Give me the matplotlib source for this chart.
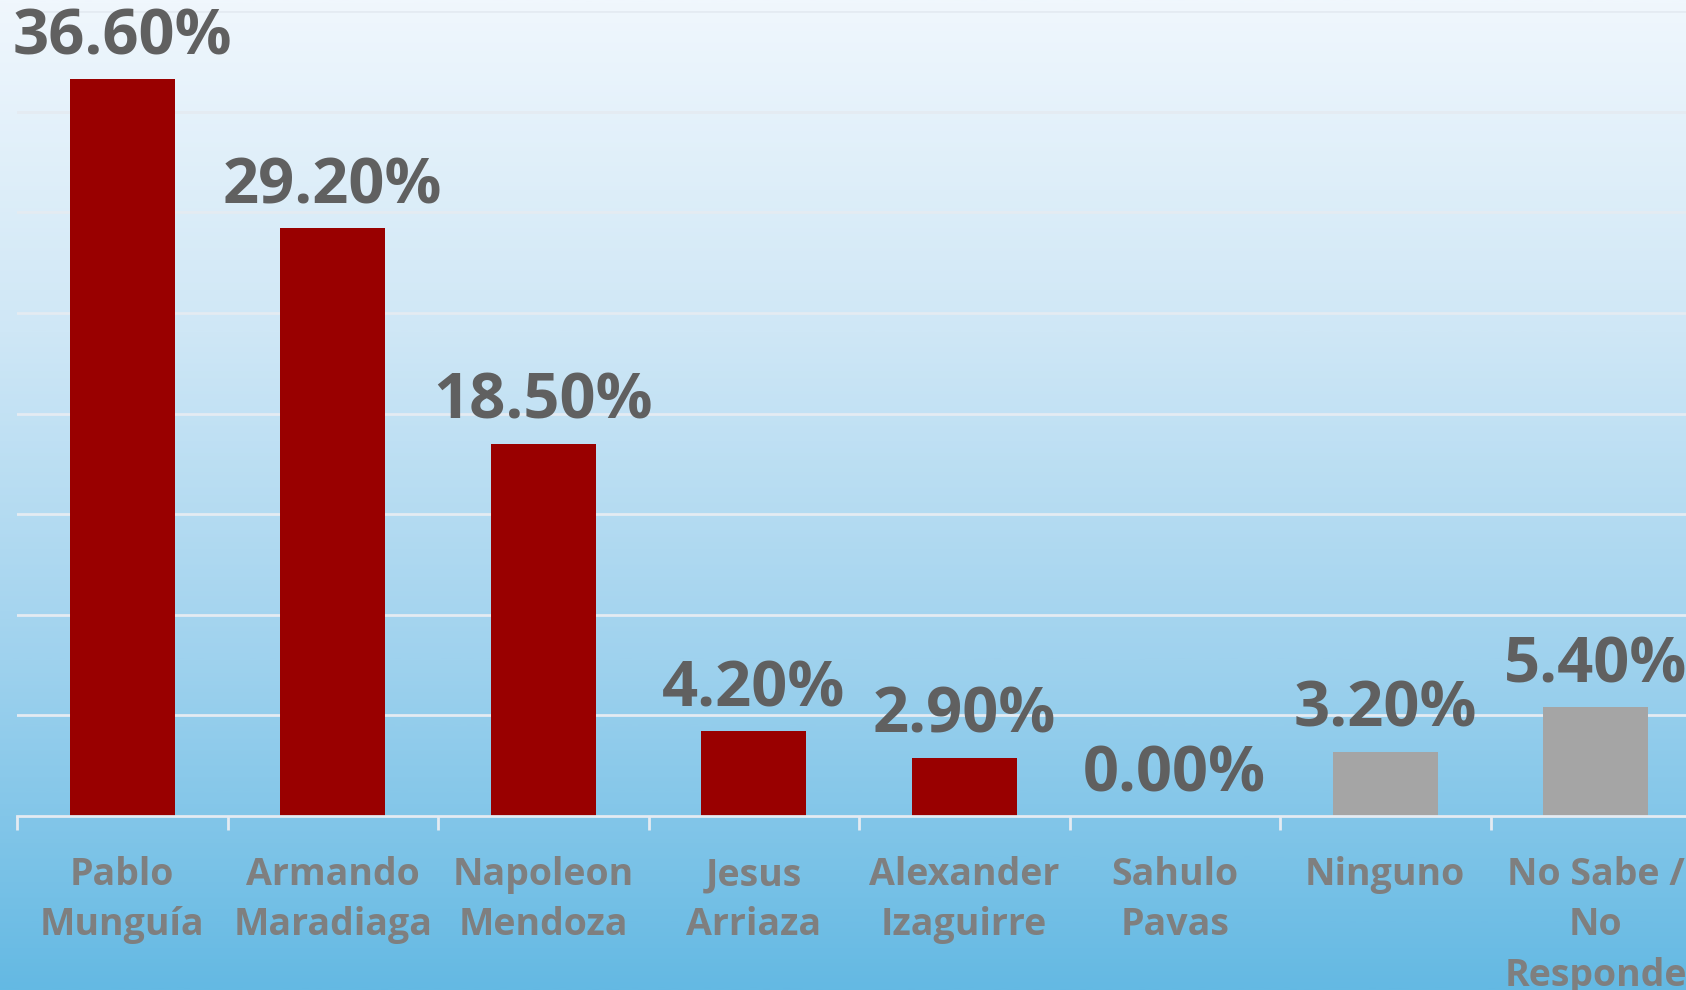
import numpy as np
import matplotlib
matplotlib.use('Agg')
import matplotlib.pyplot as plt
from matplotlib.colors import LinearSegmentedColormap

categories = ['Pablo\nMunguía', 'Armando\nMaradiaga', 'Napoleon\nMendoza', 'Jesus\nArriaza',
              'Alexander\nIzaguirre', 'Sahulo\nPavas', 'Ninguno', 'No Sabe /\nNo\nResponde']
values = [36.6, 29.2, 18.5, 4.2, 2.9, 0.0, 3.2, 5.4]
bar_colors = ['#990000'] * 6 + ['#a5a5a5'] * 2

plt.rcParams['font.family'] = ['Open Sans', 'DejaVu Sans']

fig = plt.figure(figsize=(16.86, 9.9), dpi=100)

# background gradient over the whole figure
bg = fig.add_axes([0, 0, 1, 1], zorder=0)
cmap = LinearSegmentedColormap.from_list('bg', ['#f0f7fd', '#cfe7f6', '#9fd2ee', '#64b9e3'])
grad = np.linspace(0, 1, 512).reshape(-1, 1)
bg.imshow(grad, aspect='auto', cmap=cmap, extent=[0, 1, 0, 1], origin='upper')
bg.axis('off')

ax = fig.add_axes([17 / 1686, 174 / 990, 1684 / 1686, 805 / 990], zorder=1)
ax.patch.set_alpha(0)
x = np.arange(len(categories))
bars = ax.bar(x, values, width=0.5, color=bar_colors, zorder=3)
for xi, v in zip(x, values):
    ax.annotate(f'{v:.2f}%', (xi, v), xytext=(0, 18), textcoords='offset points',
                ha='center', va='baseline', fontsize=45.5, fontweight='bold', color='#606060')

ax.set_xlim(-0.5, len(categories) - 0.5)
ax.set_ylim(0, 40)
ax.set_yticks(np.arange(5, 41, 5))
ax.yaxis.grid(True, color='#e4ebf2', linewidth=2, zorder=1)
ax.tick_params(axis='y', left=False, labelleft=False)

ax.set_xticks(x)
ax.set_xticklabels(categories, fontsize=27, fontweight='bold', color='#7f7f7f', linespacing=1.42)
ax.set_xticks(np.arange(-0.5, len(categories), 1), minor=True)
ax.tick_params(axis='x', which='major', length=0, pad=29)
ax.tick_params(axis='x', which='minor', length=10, width=2, color='#e4ebf2')

for side in ['left', 'right', 'top']:
    ax.spines[side].set_visible(False)
ax.spines['bottom'].set_color('#e4ebf2')
ax.spines['bottom'].set_linewidth(2)
ax.spines['bottom'].set_zorder(4)

fig.savefig('out.png', dpi=100)
